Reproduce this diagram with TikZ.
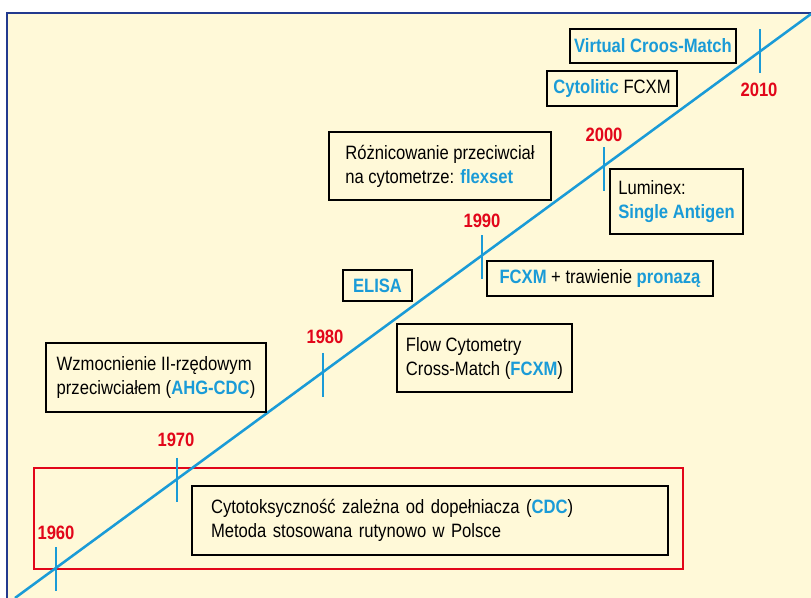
\documentclass[tikz,border=0pt]{standalone}
\usepackage{fontspec}
\setmainfont{Liberation Sans}[FakeStretch=0.86]
\usepackage{tikz}
\usetikzlibrary{positioning}
\definecolor{bgyellow}{HTML}{FFF9D8}
\definecolor{tblue}{HTML}{1A9BD7}
\definecolor{tred}{HTML}{E2061A}
\definecolor{tnavy}{HTML}{233A8E}
\tikzstyle{box} = [rectangle, draw=black, line width=1pt, fill=bgyellow, align=left, inner sep=0pt, font=\fontsize{14.5}{18}\selectfont]
\tikzstyle{year} = [font=\fontsize{14.5}{18}\selectfont\bfseries, text=tred, anchor=base, inner sep=0pt]
\tikzstyle{tick} = [line width=1.9pt, draw=tblue]
\tikzstyle{redframe} = [rectangle, draw=tred, line width=1.9pt, inner sep=0pt]
\newcommand{\kw}[1]{\textbf{\color{tblue}#1}}

\begin{document}
\begin{tikzpicture}[x=0.75pt, y=-0.75pt]
\useasboundingbox (0,0) rectangle (811,598);
\fill [white] (0,0) rectangle (811,598);
\fill [bgyellow] (7,13) rectangle (811,598);
\draw [tnavy, line width=1.9pt] (7,598) -- (7,13) -- (811,13);

% red frame round the CDC box
\node (cdcframe) [redframe, minimum width=486.75pt, minimum height=75.75pt] at (358.5,518.5) {};

% timeline
\coordinate (start) at (15,598);
\coordinate (end) at (811,14);
\draw [tick] (start) -- (end);

\coordinate (t1960) at (56,569.5);
\coordinate (t1970) at (177,480);
\coordinate (t1980) at (323,375);
\coordinate (t1990) at (482,257.5);
\coordinate (t2000) at (604,169.5);
\coordinate (t2010) at (760,51.5);
\draw [tick] ([yshift=16.5pt]t1960) -- ([yshift=-16.5pt]t1960);
\draw [tick] ([yshift=16.5pt]t1970) -- ([yshift=-16.5pt]t1970);
\draw [tick] ([yshift=16.5pt]t1980) -- ([yshift=-16.5pt]t1980);
\draw [tick] ([yshift=16.5pt]t1990) -- ([yshift=-16.5pt]t1990);
\draw [tick] ([yshift=16.5pt]t2000) -- ([yshift=-16.5pt]t2000);
\draw [tick] ([yshift=16.5pt]t2010) -- ([yshift=-16.5pt]t2010);

\node (y1960) [year] at (56,540) {1960};
\node (y1970) [year] at (176,447) {1970};
\node (y1980) [year] at (325,344) {1980};
\node (y1990) [year] at (482,228) {1990};
\node (y2000) [year] at (604,142) {2000};
\node (y2010) [year] at (759,97) {2010};

% methods
\node (virt) [box, minimum width=124.5pt, minimum height=25.5pt] at (653,46) {\kw{Virtual Croos-Match}};
\node (cyto) [box, minimum width=97.5pt, minimum height=26.25pt] at (612,88.5) {\kw{Cytolitic} FCXM};
\node (rozn) [box, minimum width=166.5pt, minimum height=51pt] at (440,166) {Różnicowanie przeciwciał\\na cytometrze: \kw{flexset}};
\node (lumi) [box, minimum width=99.75pt, minimum height=48.75pt] at (676.5,201.5) {Luminex:\\\kw{Single Antigen}};
\node (elisa) [box, minimum width=51.75pt, minimum height=23.25pt] at (377.5,285.5) {\kw{ELISA}};
\node (fcxm) [box, minimum width=169.5pt, minimum height=26.25pt] at (600,278.5) {\kw{FCXM} + trawienie \kw{pronazą}};
\node (flow) [box, minimum width=131.25pt, minimum height=51pt] at (484.5,358) {Flow Cytometry\\Cross-Match (\kw{FCXM})};
\node (wzm) [box, minimum width=165pt, minimum height=51.75pt] at (156,377.5) {Wzmocnienie II-rzędowym\\przeciwciałem (\kw{AHG-CDC})};
\node (cdc) [box, text width=328.5pt, inner xsep=14.25pt, minimum height=51.75pt] at (430,520.5) {Cytotoksyczność zależna od dopełniacza (\kw{CDC})\\Metoda stosowana rutynowo w Polsce};

\end{tikzpicture}
\end{document}
